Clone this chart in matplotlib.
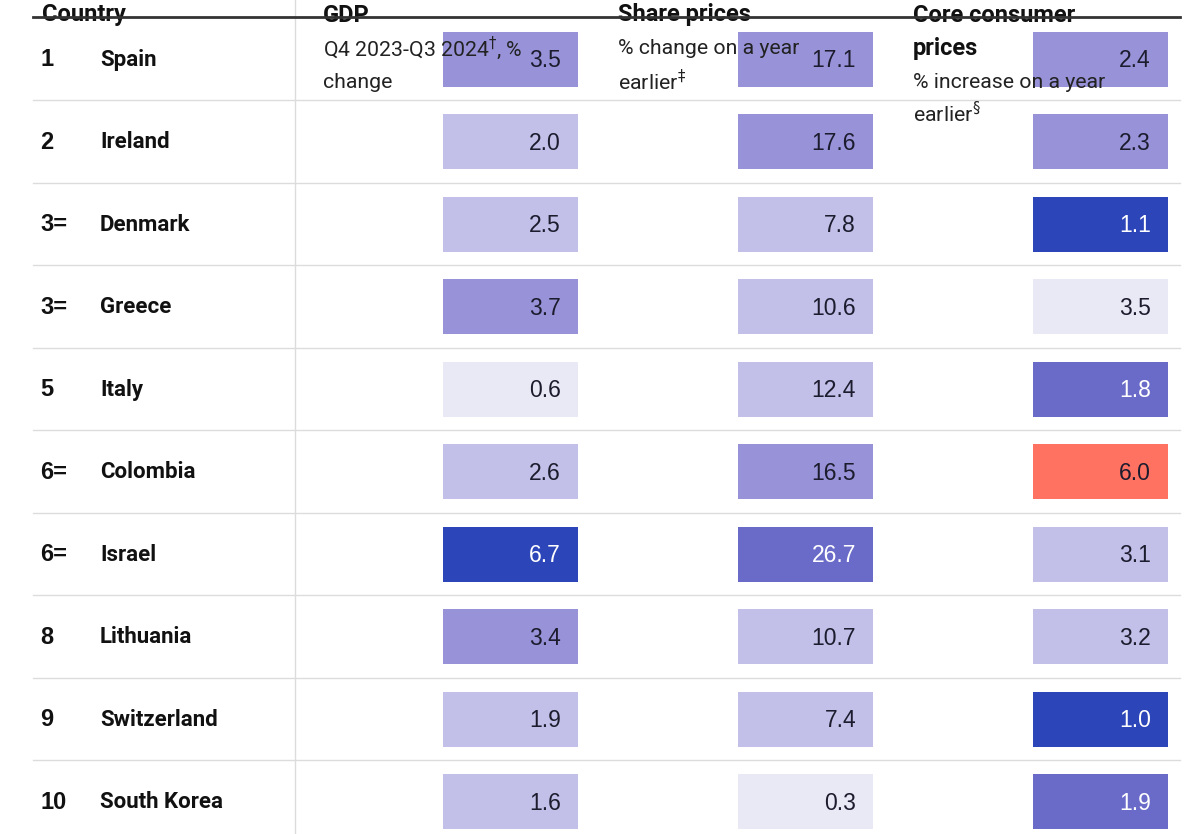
import matplotlib
matplotlib.use("Agg")
import matplotlib.pyplot as plt
from matplotlib import font_manager

ranks = ["1", "2", "3=", "3=", "5", "6=", "6=", "8", "9", "10"]
countries = ["Spain", "Ireland", "Denmark", "Greece", "Italy", "Colombia",
             "Israel", "Lithuania", "Switzerland", "South Korea"]
gdp = [3.5, 2.0, 2.5, 3.7, 0.6, 2.6, 6.7, 3.4, 1.9, 1.6]
shares = [17.1, 17.6, 7.8, 10.6, 12.4, 16.5, 26.7, 10.7, 7.4, 0.3]
core = [2.4, 2.3, 1.1, 3.5, 1.8, 6.0, 3.1, 3.2, 1.0, 1.9]

names = {f.name for f in font_manager.fontManager.ttflist}
narrow = "Liberation Sans Narrow" if "Liberation Sans Narrow" in names else "Roboto"
numfont = "Liberation Sans"

VLIGHT, LIGHT, MED, MDARK, DARK, RED = "#e9e9f6", "#c2bfe8", "#9893d8", "#6a6bc8", "#2c45b8", "#ff7161"

def gdp_color(v):
    if v < 1: return VLIGHT
    if v < 3: return LIGHT
    if v < 5: return MED
    return DARK

def share_color(v):
    if v < 5: return VLIGHT
    if v < 15: return LIGHT
    if v < 20: return MED
    return MDARK

def core_color(v):
    if v < 1.5: return DARK
    if v < 2.0: return MDARK
    if v < 3.0: return MED
    if v < 3.4: return LIGHT
    if v < 5: return VLIGHT
    return RED

W, H = 1200, 834
fig = plt.figure(figsize=(W / 100, H / 100), dpi=100)
ax = fig.add_axes([0, 0, 1, 1])
pitch = 82.5
c0 = 59.0
ax.set_xlim(0, W)
ax.set_ylim((H - c0) / pitch, -c0 / pitch)
ax.axis("off")

rows = list(range(len(countries)))
px = lambda p: (p - c0) / pitch  # pixel y to row units

# grid lines
for i in rows[:-1]:
    ax.plot([33, 1180], [i + 0.5, i + 0.5], color="#dcdcdc", lw=1.0, zorder=1)
ax.plot([295, 295], [px(0), px(H)], color="#dcdcdc", lw=1.0, zorder=1)

cols = [(443, gdp, gdp_color), (738, shares, share_color), (1033, core, core_color)]
bw, bh = 135, 55 / pitch
for left, vals, cf in cols:
    colors = [cf(v) for v in vals]
    ax.barh(rows, [bw] * len(vals), left=left, height=bh, color=colors, zorder=2)
    for i, v in enumerate(vals):
        dark = colors[i] in (DARK, MDARK)
        ax.text(left + bw - 17, i + 0.02, f"{v:.1f}", ha="right", va="center",
                fontsize=16.5, family=numfont,
                color="white" if dark else "#1c1c2e", zorder=4)

for i in rows:
    ax.text(40, i + 0.01, ranks[i], ha="left", va="center", fontsize=17,
            fontweight="bold", family="Liberation Sans", color="#111111", zorder=4)
    ax.text(100, i + 0.01, countries[i], ha="left", va="center", fontsize=16,
            fontweight="bold", family=narrow, color="#111111", zorder=4)

# header line
ax.plot([33, 1180], [px(17), px(17)], color="#333333", lw=2.0, zorder=5)

hy = px(15)
hdr = dict(ha="left", va="center", fontsize=17, fontweight="bold", family=narrow,
           color="#111111", zorder=4)
sub = dict(ha="left", va="center", fontsize=15.3, family=narrow, color="#222222", zorder=6)
ax.text(42, hy, "Country", **hdr)
ax.text(323, hy, "GDP", **hdr)
ax.text(618, hy, "Share prices", **hdr)
ax.text(913, hy, "Core consumer", **hdr)
ax.text(913, px(48), "prices", **hdr)

ax.text(323, px(48), "Q4 2023-Q3 2024$^{\u2020}$, %", **sub)
ax.text(323, px(82), "change", **sub)
ax.text(618, px(48), "% change on a year", **sub)
ax.text(618, px(82), "earlier$^{\u2021}$", **sub)
ax.text(913, px(82), "% increase on a year", **sub)
ax.text(913, px(114), "earlier$^{\u00a7}$", **sub)

fig.savefig("out.png", dpi=100)
